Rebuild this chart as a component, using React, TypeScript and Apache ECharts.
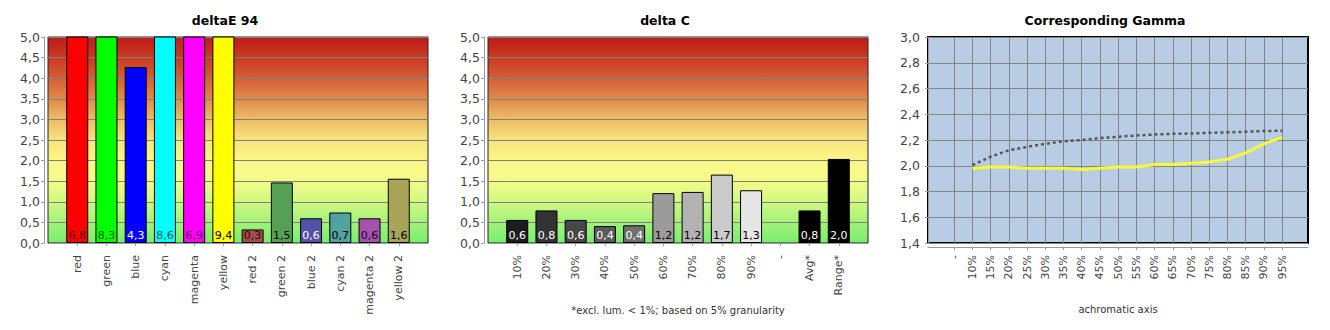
import React, { useEffect, useRef } from "react";
import * as echarts from "echarts";

const deltaECategories = ["red", "green", "blue", "cyan", "magenta", "yellow", "red 2", "green 2", "blue 2", "cyan 2", "magenta 2", "yellow 2"];
const deltaEValues = [6.8, 8.3, 4.27, 8.6, 6.9, 9.4, 0.33, 1.47, 0.6, 0.74, 0.6, 1.56];
const deltaEColors = ["#ff0000", "#00ff00", "#0000ff", "#00ffff", "#ff00ff", "#ffff00", "#a24f4b", "#55a055", "#5252aa", "#52a2a2", "#a452aa", "#a8a458"];
const deltaELabelColors = ["#5a0000", "#005a00", "#ffffff", "#005a5a", "#5a005a", "#000000", "#3a0000", "#000000", "#ffffff", "#000000", "#2a002a", "#000000"];

const deltaCCategories = ["10%", "20%", "30%", "40%", "50%", "60%", "70%", "80%", "90%", "-", "Avg*", "Range*"];
const deltaCValues = [0.56, 0.79, 0.56, 0.41, 0.43, 1.21, 1.24, 1.66, 1.28, null, 0.79, 2.04];
const deltaCColors = ["#1c1c1c", "#333333", "#474747", "#5b5b5b", "#707070", "#9b9b9b", "#b2b2b2", "#cbcbcb", "#e6e6e6", "#000000", "#000000", "#000000"];
const deltaCLabelColors = ["#ffffff", "#ffffff", "#ffffff", "#ffffff", "#ffffff", "#000000", "#000000", "#000000", "#000000", "#000000", "#ffffff", "#ffffff"];

const gammaCategories = ["-", "10%", "15%", "20%", "25%", "30%", "35%", "40%", "45%", "50%", "55%", "60%", "65%", "70%", "75%", "80%", "85%", "90%", "95%"];
const gammaMeasured = [null, 1.98, 1.99, 1.99, 1.98, 1.98, 1.98, 1.97, 1.98, 1.99, 1.99, 2.01, 2.01, 2.02, 2.03, 2.05, 2.10, 2.17, 2.22];
const gammaTarget = [null, 2.005, 2.07, 2.12, 2.146, 2.17, 2.19, 2.2, 2.215, 2.225, 2.235, 2.243, 2.248, 2.25, 2.256, 2.26, 2.264, 2.27, 2.272];

const FONT = "DejaVu Sans";
const fmt = (v: number) => v.toFixed(1).replace(".", ",");

function barData(values: (number | null)[], colors: string[], labelColors: string[]) {
  return [
    null,
    ...values.map((v, i) =>
      v == null
        ? null
        : { value: v, itemStyle: { color: colors[i] }, label: { color: labelColors[i] } }
    ),
    null,
  ];
}

function gradientBg() {
  return new echarts.graphic.LinearGradient(0, 0, 0, 1, [
    { offset: 0, color: "#be1b1b" },
    { offset: 0.1, color: "#c93a22" },
    { offset: 0.2, color: "#d45e36" },
    { offset: 0.3, color: "#e08a4c" },
    { offset: 0.4, color: "#edbc66" },
    { offset: 0.5, color: "#f7e47d" },
    { offset: 0.6, color: "#fbf788" },
    { offset: 0.7, color: "#f4fb88" },
    { offset: 0.8, color: "#d0f882" },
    { offset: 0.9, color: "#a3f279" },
    { offset: 1, color: "#78ee70" },
  ]);
}

export default function App() {
  const ref = useRef<HTMLDivElement>(null);
  useEffect(() => {
    if (!ref.current) return;
    const chart = echarts.init(ref.current, undefined, { renderer: "svg" });
    const axisGray = "#9a9a9a";
    const labelColor = "#444";

    const barXAxis = (gridIndex: number, cats: string[]) => ({
      gridIndex,
      type: "category",
      boundaryGap: false,
      data: ["", ...cats, ""],
      offset: 4,
      axisLine: { show: true, lineStyle: { color: axisGray, width: 1 } },
      axisTick: {
        show: true,
        length: 3,
        interval: (i: number) => i > 0 && i < cats.length + 1,
        lineStyle: { color: axisGray },
      },
      axisLabel: { rotate: 90, interval: 0, fontSize: 11, fontFamily: FONT, color: labelColor, margin: 8 },
      splitLine: { show: false },
    });
    const barYAxis = (gridIndex: number) => ({
      gridIndex,
      type: "value",
      min: 0,
      max: 5,
      interval: 0.5,
      offset: 4,
      axisLine: { show: true, lineStyle: { color: axisGray } },
      axisTick: { show: true, length: 3, lineStyle: { color: axisGray } },
      axisLabel: { formatter: fmt, fontSize: 12.5, fontFamily: FONT, color: labelColor, margin: 4 },
      splitLine: { show: true, lineStyle: { color: "#808080", width: 1 } },
    });
    const barSeries = (idx: number, data: any[]) => ({
      type: "bar",
      xAxisIndex: idx,
      yAxisIndex: idx,
      barWidth: 22,
      data,
      itemStyle: { borderColor: "#000", borderWidth: 1 },
      label: {
        show: true,
        position: "insideBottom",
        distance: 2,
        fontSize: 11,
        fontFamily: FONT,
        formatter: (p: any) => fmt(p.value),
      },
    });

    const titleText = (x: number, text: string) => ({
      type: "text",
      x,
      y: 20,
      style: { text, textAlign: "center", textVerticalAlign: "middle", font: `bold 12.5px '${FONT}'`, fill: "#000" },
    });
    const captionText = (x: number, y: number, text: string) => ({
      type: "text",
      x,
      y,
      style: { text, textAlign: "center", textVerticalAlign: "middle", font: `10px '${FONT}'`, fill: "#333" },
    });

    chart.setOption({
      animation: false,
      graphic: [
        titleText(225, "deltaE 94"),
        titleText(665, "delta C"),
        titleText(1105, "Corresponding Gamma"),
        captionText(678, 310, "*excl. lum. < 1%; based on 5% granularity"),
        captionText(1118, 309, "achromatic axis"),
      ],
      grid: [
        { left: 48, top: 37, width: 380, height: 206, show: true, backgroundColor: gradientBg(), borderColor: "#222", borderWidth: 1 },
        { left: 488, top: 37, width: 380, height: 206, show: true, backgroundColor: gradientBg(), borderColor: "#222", borderWidth: 1 },
        { left: 928, top: 37, width: 380, height: 206, show: true, backgroundColor: "#b8cce4", borderColor: "#000", borderWidth: 2 },
        { left: 954.2, top: 37, width: 327.9, height: 206 },
      ],
      xAxis: [
        barXAxis(0, deltaECategories),
        barXAxis(1, deltaCCategories),
        {
          gridIndex: 2,
          type: "value",
          min: 0,
          max: 1,
          offset: 4,
          axisLine: { show: true, lineStyle: { color: axisGray } },
          axisTick: { show: false },
          axisLabel: { show: false },
          splitLine: { show: false },
        },
        {
          gridIndex: 3,
          type: "category",
          boundaryGap: false,
          data: gammaCategories,
          offset: 4,
          axisLine: { show: false },
          axisTick: { show: true, length: 3, lineStyle: { color: axisGray } },
          axisLabel: { rotate: 90, interval: 0, fontSize: 11, fontFamily: FONT, color: labelColor, margin: 8 },
          splitLine: { show: true, interval: 0, lineStyle: { color: "#858585", width: 1 } },
        },
      ],
      yAxis: [
        barYAxis(0),
        barYAxis(1),
        {
          gridIndex: 2,
          type: "value",
          min: 1.4,
          max: 3.0,
          interval: 0.2,
          offset: 4,
          axisLine: { show: true, lineStyle: { color: axisGray } },
          axisTick: { show: true, length: 3, lineStyle: { color: axisGray } },
          axisLabel: { formatter: fmt, fontSize: 12.5, fontFamily: FONT, color: labelColor, margin: 4 },
          splitLine: { show: true, lineStyle: { color: "#858585", width: 1 } },
        },
        { gridIndex: 3, type: "value", min: 1.4, max: 3.0, show: false, splitLine: { show: false } },
      ],
      series: [
        barSeries(0, barData(deltaEValues, deltaEColors, deltaELabelColors)),
        barSeries(1, barData(deltaCValues, deltaCColors, deltaCLabelColors)),
        {
          type: "line",
          xAxisIndex: 3,
          yAxisIndex: 3,
          data: gammaTarget,
          symbol: "none",
          lineStyle: { color: "#555555", width: 2.5, type: [3, 3] },
        },
        {
          type: "line",
          xAxisIndex: 3,
          yAxisIndex: 3,
          data: gammaMeasured,
          symbol: "none",
          lineStyle: { color: "#f8f83a", width: 3 },
        },
      ],
    });
    return () => chart.dispose();
  }, []);
  return <div ref={ref} style={{ position: "absolute", left: 0, top: 0, width: 1330, height: 330 }} />;
}
